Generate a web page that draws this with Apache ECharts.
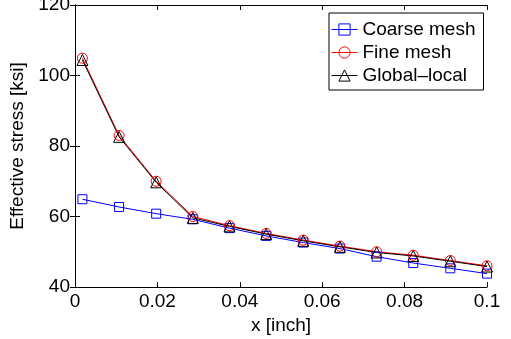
<!DOCTYPE html>
<html>
<head>
<meta charset="utf-8">
<script src="https://cdn.jsdelivr.net/npm/echarts@6/dist/echarts.min.js"></script>
<style>html,body{margin:0;padding:0;background:#fff}#c{width:511px;height:339px}</style>
</head>
<body>
<div id="c"></div>
<script>
const xValues = [0.0018, 0.0107, 0.0197, 0.0286, 0.0375, 0.0464, 0.0554, 0.0643, 0.0732, 0.0821, 0.0911, 0.1];
const coarseMesh = [64.9, 62.7, 60.8, 59.2, 56.7, 54.5, 52.6, 50.9, 48.6, 46.8, 45.3, 43.8];
const fineMesh = [104.9, 83.0, 70.0, 60.0, 57.4, 55.2, 53.3, 51.6, 50.0, 49.0, 47.5, 46.0];
const globalLocal = [104.4, 82.6, 69.7, 59.6, 57.2, 55.0, 53.1, 51.4, 49.8, 48.8, 47.3, 45.8];
const seriesNames = ['Coarse mesh', 'Fine mesh', 'Global\u2013local'];
const xTicks = [0, 0.02, 0.04, 0.06, 0.08, 0.1];
const yTicks = [40, 60, 80, 100, 120];

const FONT = 'Liberation Sans, Arial, Helvetica, sans-serif';
const pairs = arr => xValues.map((x, i) => [x, arr[i]]);

function mkSeries(name, data, color, symbol, size) {
  return {
    name: name, type: 'line', data: pairs(data),
    symbol: symbol, symbolSize: size, showSymbol: true,
    lineStyle: { color: color, width: 1 },
    itemStyle: { color: 'rgba(0,0,0,0)', borderColor: color, borderWidth: 1 },
    emphasis: { disabled: true },
    z: 2
  };
}

const chart = echarts.init(document.getElementById('c'), null, { renderer: 'canvas' });
const baseAxis = {
  axisLine: { show: true, lineStyle: { color: '#000', width: 1 } },
  axisTick: { show: true, inside: true, length: 5, lineStyle: { color: '#000' } },
  splitLine: { show: false }
};
chart.setOption({
  animation: false,
  backgroundColor: '#fff',
  textStyle: { fontFamily: FONT, color: '#000' },
  grid: { left: 75, right: 24, top: 5, bottom: 52, containLabel: false, outerBoundsMode: 'none' },
  legend: {
    data: seriesNames,
    orient: 'vertical', left: 329, top: 13,
    itemWidth: 26, itemHeight: 14, itemGap: 4,
    padding: [7, 8, 5, 2],
    backgroundColor: '#fff', borderColor: '#000', borderWidth: 1, borderRadius: 0,
    itemStyle: { borderWidth: 1 },
    lineStyle: { width: 1 },
    textStyle: { fontFamily: FONT, fontSize: 19, color: '#000', padding: [0, 0, 0, 0] }
  },
  xAxis: [
    Object.assign({}, baseAxis, {
      type: 'value', min: xTicks[0], max: xTicks[xTicks.length - 1], interval: 0.02,
      name: 'x [inch]', nameLocation: 'middle', nameGap: 28,
      nameTextStyle: { fontFamily: FONT, fontSize: 19, color: '#000' },
      axisLabel: { fontFamily: FONT, fontSize: 19, color: '#000', margin: 5,
        formatter: v => String(+v.toFixed(2)) }
    }),
    Object.assign({}, baseAxis, {
      type: 'value', position: 'top', min: xTicks[0], max: xTicks[xTicks.length - 1], interval: 0.02,
      axisLabel: { show: false }
    })
  ],
  yAxis: [
    Object.assign({}, baseAxis, {
      type: 'value', min: yTicks[0], max: yTicks[yTicks.length - 1], interval: 20,
      name: 'Effective stress [ksi]', nameLocation: 'middle', nameGap: 38, nameRotate: 90,
      nameTextStyle: { fontFamily: FONT, fontSize: 19, color: '#000' },
      axisLabel: { fontFamily: FONT, fontSize: 19, color: '#000', margin: 5 }
    }),
    Object.assign({}, baseAxis, {
      type: 'value', position: 'right', min: yTicks[0], max: yTicks[yTicks.length - 1], interval: 20,
      axisLabel: { show: false }
    })
  ],
  series: [
    mkSeries(seriesNames[0], coarseMesh, '#0000ff', 'rect', 9),
    mkSeries(seriesNames[1], fineMesh, '#ff0000', 'circle', 10),
    mkSeries(seriesNames[2], globalLocal, '#000000', 'triangle', 11)
  ]
});
</script>
</body>
</html>
